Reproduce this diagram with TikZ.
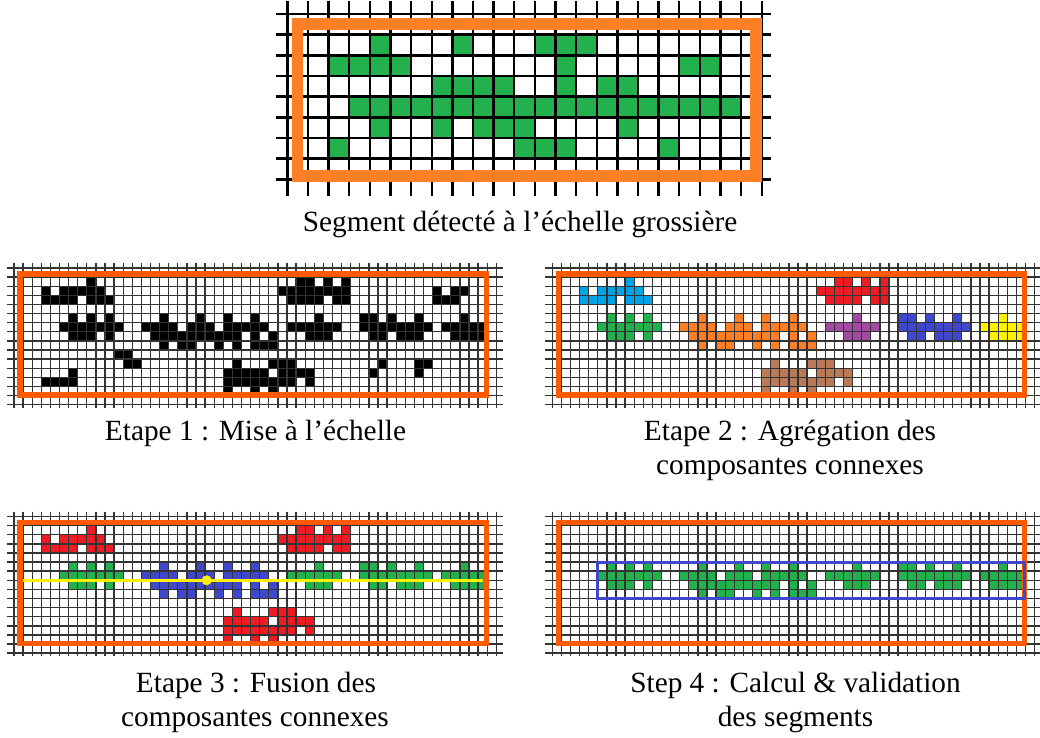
\documentclass[tikz,border=0pt]{standalone}
\usepackage{fontspec}
\setmainfont{Liberation Serif}
\definecolor{pgreen}{RGB}{34,177,76}
\definecolor{plblue}{RGB}{0,162,232}
\definecolor{pred}{RGB}{237,28,36}
\definecolor{porange}{RGB}{255,127,39}
\definecolor{ppurple}{RGB}{163,73,164}
\definecolor{pblue}{RGB}{63,72,204}
\definecolor{pyellow}{RGB}{255,242,0}
\definecolor{pbrown}{RGB}{185,122,87}
\definecolor{frameT}{RGB}{255,127,39}
\definecolor{frameS}{RGB}{255,90,0}
\tikzset{
  topgrid/.style={black,line width=2.4pt},
  sgrid/.style={black!80,line width=1.35pt},
  frametop/.style={draw=frameT,line width=11.5pt},
  framesmall/.style={draw=frameS,line width=5.5pt},
  captext/.style={font=\fontsize{29.3}{35}\selectfont,anchor=base,inner sep=0pt}
}
% one row of small-grid pixels: x0, y0, colour, row, columns
\newcommand\pxrow[5]{\foreach \c in {#5} {\fill[#3] ({#1+\c*9.1},{#2+#4*9.11}) rectangle ++(9.1,9.11);}}
\newcommand\toprow[2]{\foreach \c in {#2} {\fill[pgreen] ({287.3+\c*20.63},{14+#1*20.67}) rectangle ++(20.63,20.67);}}
\newcommand\shpA[3]{\pxrow{#1}{#2}{#3}{1}{8}\pxrow{#1}{#2}{#3}{2}{3,5,6,7,8,9}\pxrow{#1}{#2}{#3}{3}{3,4,5,6,8,9,10}}
\newcommand\shpB[3]{\pxrow{#1}{#2}{#3}{5}{6,8,10}\pxrow{#1}{#2}{#3}{6}{5,...,11}\pxrow{#1}{#2}{#3}{7}{6,7,8,10}}
\newcommand\shpC[3]{\pxrow{#1}{#2}{#3}{5}{16,20,23,26}\pxrow{#1}{#2}{#3}{6}{14,15,16,17,19,20,21,23,24,25,26,27}\pxrow{#1}{#2}{#3}{7}{15,...,24,26,28}\pxrow{#1}{#2}{#3}{8}{16,18,19,22,24,26,27,28}}
\newcommand\shpD[3]{\pxrow{#1}{#2}{#3}{1}{31,32,34,36}\pxrow{#1}{#2}{#3}{2}{29,...,36}\pxrow{#1}{#2}{#3}{3}{30,31,32,33,35,36}}
\newcommand\shpE[3]{\pxrow{#1}{#2}{#3}{5}{33}\pxrow{#1}{#2}{#3}{6}{30,...,35}\pxrow{#1}{#2}{#3}{7}{32,33,34}}
\newcommand\shpF[3]{\pxrow{#1}{#2}{#3}{5}{38,39,41,44}\pxrow{#1}{#2}{#3}{6}{38,...,45}\pxrow{#1}{#2}{#3}{7}{39,40,42,43,44}}
\newcommand\shpG[3]{\pxrow{#1}{#2}{#3}{5}{49}\pxrow{#1}{#2}{#3}{6}{47,...,51}\pxrow{#1}{#2}{#3}{7}{48,...,51}}
\newcommand\shpH[3]{\pxrow{#1}{#2}{#3}{10}{24,28,29,30}\pxrow{#1}{#2}{#3}{11}{23,24,25,26,27,29,30,31,32}\pxrow{#1}{#2}{#3}{12}{23,...,30,32}\pxrow{#1}{#2}{#3}{13}{23,26,28}}
\newcommand\shpSmall[3]{\pxrow{#1}{#2}{#3}{9}{11,12}\pxrow{#1}{#2}{#3}{10}{12,13}\pxrow{#1}{#2}{#3}{11}{6}\pxrow{#1}{#2}{#3}{12}{3,4,5,6}%
  \pxrow{#1}{#2}{#3}{2}{46,48,49}\pxrow{#1}{#2}{#3}{3}{46,47,48}\pxrow{#1}{#2}{#3}{10}{40,44,45}\pxrow{#1}{#2}{#3}{11}{39,44}}
\newcommand\pgrid[2]{%
  \foreach \c in {0,...,53} {\draw[sgrid] ({#1+\c*9.1},{#2-5}) -- ({#1+\c*9.1},{#2+139.6});}
  \foreach \r in {0,...,15} {\draw[sgrid] ({#1-7},{#2+\r*9.11}) -- ({#1+489.3},{#2+\r*9.11});}}
\newcommand\pframe[2]{\draw[framesmall] ({#1+6},{#2+5.8}) rectangle ({#1+472.3},{#2+127.2});}
\begin{document}
\begin{tikzpicture}[x=1pt,y=-1pt]
\useasboundingbox (0,0) rectangle (1040,737);
\fill[white] (0,0) rectangle (1040,737);
% ---- top coarse grid ----
\toprow{1}{4,8,12,13,14}
\toprow{2}{2,3,4,5,13,19,20}
\toprow{3}{7,8,9,10,13,15,16}
\toprow{4}{3,...,21}
\toprow{5}{4,7,9,10,11,16}
\toprow{6}{2,11,12,13,18}
\foreach \c in {0,...,23} {\draw[topgrid] ({287.3+\c*20.63},1) -- ({287.3+\c*20.63},196);}
\foreach \r in {0,...,8} {\draw[topgrid] (276,{14+\r*20.67}) -- (771,{14+\r*20.67});}
\draw[frametop] (297.5,24.2) rectangle (755.8,175.8);
\node[captext] (t0) at (520,231.5) {Segment détecté à l’échelle grossière};
% ---- panel 1 ----
\shpA{14}{268}{black}\shpB{14}{268}{black}\shpC{14}{268}{black}\shpD{14}{268}{black}
\shpE{14}{268}{black}\shpF{14}{268}{black}\shpG{14}{268}{black}\shpH{14}{268}{black}
\shpSmall{14}{268}{black}
\pgrid{14}{268}
\pframe{14}{268}
\node[captext] (t1) at (255.5,440.7) {Etape 1 : Mise à l’échelle};
% ---- panel 2 ----
\shpA{552.3}{268}{plblue}\shpB{552.3}{268}{pgreen}\shpC{552.3}{268}{porange}\shpD{552.3}{268}{pred}
\shpE{552.3}{268}{ppurple}\shpF{552.3}{268}{pblue}\shpG{552.3}{268}{pyellow}\shpH{552.3}{268}{pbrown}
\pgrid{552.3}{268}
\pframe{552.3}{268}
\node[captext] (t2a) at (790,440.7) {Etape 2 : Agrégation des};
\node[captext] (t2b) at (790,474.7) {composantes connexes};
% ---- panel 3 ----
\shpA{14}{516.5}{pred}\shpB{14}{516.5}{pgreen}\shpC{14}{516.5}{pblue}\shpD{14}{516.5}{pred}
\shpE{14}{516.5}{pgreen}\shpF{14}{516.5}{pgreen}\shpG{14}{516.5}{pgreen}\shpH{14}{516.5}{pred}
\pgrid{14}{516.5}
\pframe{14}{516.5}
\coordinate (ya) at (23.3,580.3);
\coordinate (yb) at (483.3,580.3);
\draw[pyellow,line width=3.3pt] (ya) -- (yb);
\fill[pyellow] (206.7,580.3) circle (5);
\node[captext] (t3a) at (256,692.7) {Etape 3 : Fusion des};
\node[captext] (t3b) at (255,726.7) {composantes connexes};
% ---- panel 4 ----
\shpB{552.3}{516.5}{pgreen}\shpC{552.3}{516.5}{pgreen}
\shpE{552.3}{516.5}{pgreen}\shpF{552.3}{516.5}{pgreen}\shpG{552.3}{516.5}{pgreen}
\pgrid{552.3}{516.5}
\pframe{552.3}{516.5}
\draw[pblue,line width=3pt] (597.8,562.05) rectangle (1024.6,598.5);
\node[captext] (t4a) at (795.5,692.7) {Step 4 : Calcul \& validation};
\node[captext] (t4b) at (795.5,726.7) {des segments};
\end{tikzpicture}
\end{document}
